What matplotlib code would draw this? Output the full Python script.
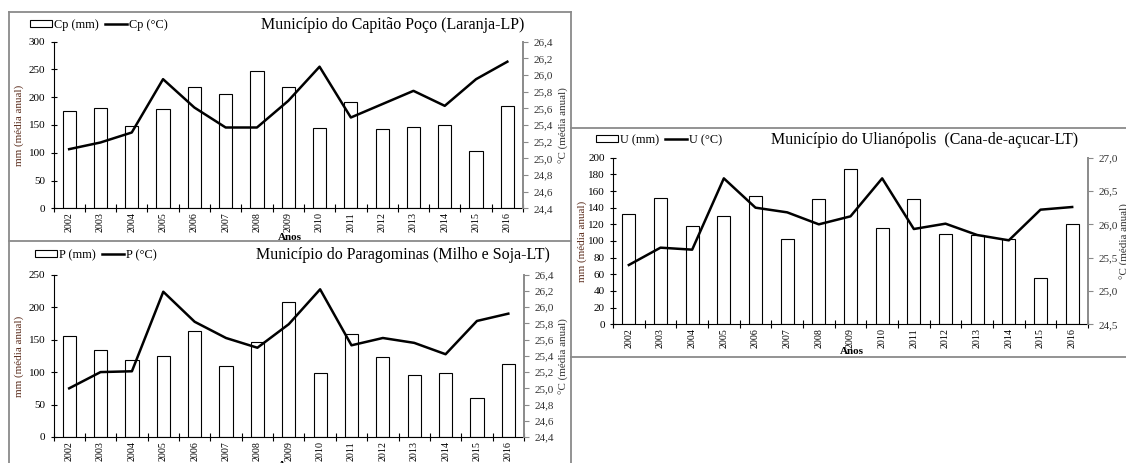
import matplotlib
matplotlib.use("Agg")
import matplotlib.pyplot as plt
from matplotlib.patches import Patch
from matplotlib.lines import Line2D
from matplotlib.ticker import MultipleLocator, FixedLocator, FuncFormatter
import numpy as np

plt.rcParams['font.family'] = ['Liberation Serif', 'DejaVu Serif']

W, H = 1126, 463  # tamanho da figura em pixels

anos = ['2002', '2003', '2004', '2005', '2006', '2007', '2008', '2009',
        '2010', '2011', '2012', '2013', '2014', '2015', '2016']

# Capitão Poço (Laranja-LP)
cp_mm = [176, 181, 148, 178, 219, 205, 247, 218, 145, 192, 143, 146, 150, 103, 184]
cp_temp = [25.11, 25.19, 25.31, 25.95, 25.61, 25.37, 25.37, 25.69, 26.10, 25.49,
           25.65, 25.81, 25.63, 25.95, 26.16]

# Paragominas (Milho e Soja-LT)
p_mm = [155, 134, 118, 125, 163, 109, 147, 208, 99, 159, 123, 96, 99, 60, 112]
p_temp = [25.00, 25.20, 25.21, 26.19, 25.82, 25.62, 25.50, 25.79, 26.22, 25.53,
          25.62, 25.56, 25.42, 25.83, 25.92]

# Ulianópolis (Cana-de-açucar-LT)
u_mm = [133, 152, 118, 130, 154, 103, 151, 187, 116, 150, 108, 107, 103, 56, 120]
u_temp = [25.39, 25.65, 25.62, 26.69, 26.25, 26.18, 26.00, 26.12, 26.69, 25.93,
          26.01, 25.84, 25.76, 26.22, 26.26]

COR_MOLDURA = '#8a8a8a'
COR_MM = '#5c2e1e'
FONTE_TICK = 8
FONTE_ANO = 7.2
FONTE_TITULO = 11.5
FONTE_LEGENDA = 8.8


def px(x):
    return x / W


def py(y):
    return 1 - y / H


def virgula(v, pos):
    return f"{v:.1f}".replace('.', ',')


def painel(fig, caixa, mm, temp, mm_max, mm_passo, t_min, t_max, t_passo):
    x0, y0, x1, y1 = caixa
    ax = fig.add_axes([px(x0), py(y1), px(x1) - px(x0), py(y0) - py(y1)])
    x = np.arange(len(anos))
    ax.bar(x, mm, width=0.42, color='white', edgecolor='black', linewidth=0.8)
    ax.set_xlim(-0.5, len(anos) - 0.5)
    ax.set_ylim(0, mm_max)
    ax.yaxis.set_major_locator(MultipleLocator(mm_passo))
    ax.set_xticks(x)
    ax.set_xticklabels(anos, rotation=90, fontsize=FONTE_ANO)
    ax.xaxis.set_minor_locator(FixedLocator(np.arange(-0.5, len(anos), 1.0)))
    ax.tick_params(axis='x', which='major', length=0, pad=3)
    ax.tick_params(axis='x', which='minor', direction='inout', length=6, width=0.8)
    ax.tick_params(axis='y', direction='inout', length=4, width=0.8, pad=4,
                   labelsize=FONTE_TICK)
    for s in ['top', 'right']:
        ax.spines[s].set_visible(False)
    ax.spines['left'].set_linewidth(0.8)
    ax.spines['bottom'].set_linewidth(0.8)

    ax2 = ax.twinx()
    ax2.plot(x, temp, color='black', linewidth=1.8)
    ax2.set_ylim(t_min, t_max)
    ax2.yaxis.set_major_locator(MultipleLocator(t_passo))
    ax2.yaxis.set_major_formatter(FuncFormatter(virgula))
    ax2.tick_params(axis='y', direction='out', length=3.5, width=0.8, pad=4,
                    labelsize=FONTE_TICK, color=COR_MOLDURA, labelcolor='#333333')
    for s in ['top', 'left', 'bottom']:
        ax2.spines[s].set_visible(False)
    ax2.spines['right'].set_color(COR_MOLDURA)
    ax2.spines['right'].set_linewidth(1.4)
    return ax


def legenda(fig, x, y, nome):
    alcas = [Patch(facecolor='white', edgecolor='black', linewidth=0.8),
             Line2D([], [], color='black', linewidth=1.8)]
    fig.legend(alcas, [f'{nome} (mm)', f'{nome} (°C)'], ncol=2, loc='center left',
               bbox_to_anchor=(px(x), py(y)), bbox_transform=fig.transFigure,
               frameon=False, fontsize=FONTE_LEGENDA, handlelength=1.8, handleheight=0.45,
               handletextpad=0.15, columnspacing=0.5, borderpad=0, borderaxespad=0)


def linha(fig, xs, ys):
    fig.add_artist(Line2D([px(v) for v in xs], [py(v) for v in ys],
                          transform=fig.transFigure, color=COR_MOLDURA, linewidth=1.3))


def rotulos(fig, x_mm, x_c, y_meio, x_anos, y_anos):
    fig.text(px(x_mm), py(y_meio), 'mm (média anual)', rotation=90, ha='center',
             va='center', fontsize=8, color=COR_MM)
    fig.text(px(x_c), py(y_meio), '°C (média anual)', rotation=90, ha='center',
             va='center', fontsize=8, color='#333333')
    fig.text(px(x_anos), py(y_anos), 'Anos', ha='center', va='center',
             fontsize=8, fontweight='bold')


fig = plt.figure(figsize=(W / 100, H / 100), dpi=100)

# molduras dos quadros
linha(fig, [9, 571], [12, 12])
linha(fig, [9, 9], [12, 463])
linha(fig, [9, 571], [241, 241])
linha(fig, [571, 571], [12, 463])
linha(fig, [571, 1126], [128, 128])
linha(fig, [571, 1126], [357, 357])

# Capitão Poço
painel(fig, (53.5, 41.7, 523, 208.3), cp_mm, cp_temp, 300, 50, 24.4, 26.4, 0.2)
legenda(fig, 30, 25, 'Cp')
fig.text(px(524), py(25), 'Município do Capitão Poço (Laranja-LP)', ha='right',
         va='center', fontsize=FONTE_TITULO)
rotulos(fig, 19, 564, 125, 290, 237)

# Paragominas
painel(fig, (53.5, 274.7, 524, 437), p_mm, p_temp, 250, 50, 24.4, 26.4, 0.2)
legenda(fig, 35, 255, 'P')
fig.text(px(550), py(255), 'Município do Paragominas (Milho e Soja-LT)', ha='right',
         va='center', fontsize=FONTE_TITULO)
rotulos(fig, 19, 564, 356, 290, 465.5)

# Ulianópolis
painel(fig, (613, 157.7, 1088, 324.3), u_mm, u_temp, 200, 20, 24.5, 27.0, 0.5)
legenda(fig, 596, 140, 'U')
fig.text(px(1078), py(140), 'Município do Ulianópolis  (Cana-de-açucar-LT)', ha='right',
         va='center', fontsize=FONTE_TITULO)
rotulos(fig, 582, 1125, 241, 852, 352)

fig.savefig('out.png', dpi=100)
